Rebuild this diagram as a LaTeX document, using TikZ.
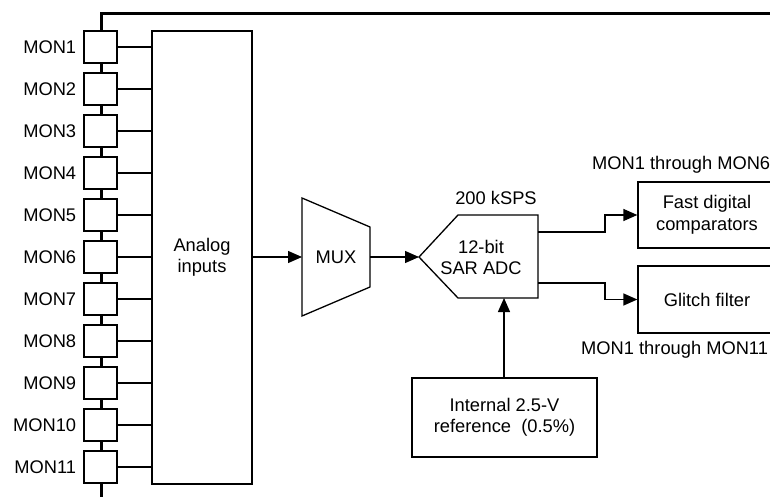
\documentclass[tikz,border=0pt]{standalone}
\usepackage{fontspec}
\setmainfont{Liberation Sans}
\usetikzlibrary{arrows.meta}
\begin{document}
\begin{tikzpicture}[x=1pt,y=-1pt,
  every node/.style={font=\fontsize{18.3pt}{21.5pt}\selectfont, inner sep=0pt},
  thin line/.style={line width=1.3pt},
  bus line/.style={line width=3pt},
  monbox/.style={draw, thin line, fill=white, minimum width=33pt, minimum height=32pt},
  blockbox/.style={draw, thin line, fill=white, align=center},
  arr/.style={thin line, -{Triangle[length=14pt,width=12pt]}}]
\useasboundingbox (0,0) rectangle (770,497);
\clip (0,0) rectangle (770,497);
% bus line
\draw[bus line] (101,500) -- (101,14) -- (780,14);
% analog inputs block
\node[blockbox, minimum width=100pt, minimum height=453pt] (ain) at (202,257.5) {Analog\\inputs};
% MON boxes
\foreach \i in {1,...,11} {
  \node[monbox] (m\i) at (100.5,{47+42*(\i-1)}) {};
  \node[anchor=east] (l\i) at ([xshift=-7pt]m\i.west) {MON\i};
  \draw[thin line] (m\i.east) -- (m\i.east -| ain.west);
}
% MUX
\draw[thin line] (302,198) -- (370,227) -- (370,287) -- (302,316) -- cycle;
\node (mux) at (336,257) {MUX};
\coordinate (muxin) at (302,257);
\coordinate (muxout) at (370,257);
\draw[arr] (ain.east |- muxin) -- (muxin);
% ADC
\draw[thin line] (419,257) -- (458,215) -- (538,215) -- (538,298) -- (458,298) -- cycle;
\node[align=center] (adc) at (481,257.5) {12-bit\\SAR ADC};
\node (rate) at (496,198) {200 kSPS};
\coordinate (adcin) at (419,257);
\coordinate (adcout1) at (538,232);
\coordinate (adcout2) at (538,283);
\coordinate (adcbot) at (504,298);
\draw[arr] (muxout) -- (adcin);
% outputs
\node[blockbox, minimum width=138pt, minimum height=66pt] (fdc) at (707,215) {Fast digital\\comparators};
\node[blockbox, minimum width=138pt, minimum height=67pt] (gf) at (707,299.5) {Glitch filter};
\node[anchor=west] (t6) at (592,165) {MON1 through MON6};
\node[anchor=west] (t11) at (581,350) {MON1 through MON11};
\draw[arr] (adcout1) -- ++(67,0) |- (fdc.west);
\draw[arr] (adcout2) -- ++(67,0) |- (gf.west);
% reference
\node[blockbox, minimum width=185pt, minimum height=79pt] (ref) at (504.5,417.5) {Internal 2.5-V\\reference\ \ (0.5\%)};
\draw[arr] (ref.north -| adcbot) -- (adcbot);
\end{tikzpicture}
\end{document}
